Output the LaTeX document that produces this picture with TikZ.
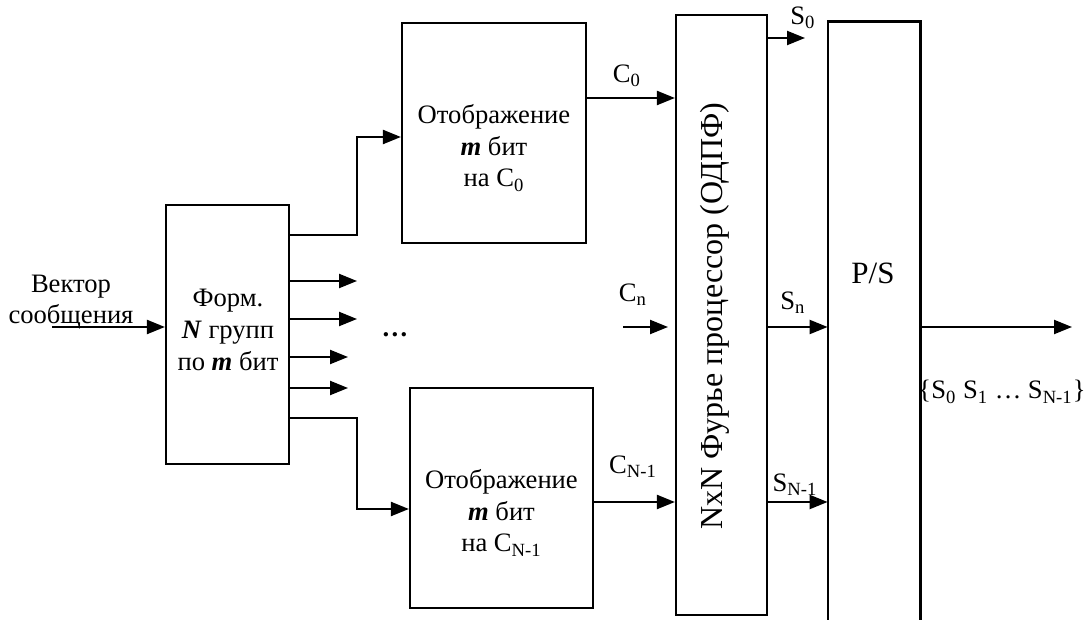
\documentclass[tikz,border=0pt]{standalone}
\usepackage{fontspec}
\setmainfont{Liberation Serif}
\usetikzlibrary{arrows.meta}
\tikzset{
    blk/.style={draw, line width=1.1pt, inner sep=0pt, align=center},
    ln/.style={line width=1.1pt},
    arr/.style={line width=1.1pt, -{Triangle[length=9pt,width=7pt]}},
}

\begin{document}
\begin{tikzpicture}[x=0.5pt, y=-0.5pt, font=\fontsize{13.3}{15.8}\selectfont]
    \useasboundingbox (0,0) rectangle (1089,620);
    % blocks
    \node [blk, minimum width=61.5pt, minimum height=129.5pt] (form) at (227.5,334.5) {};
    \node [align=center] (formtxt) at (228,330) {Форм.\\\textbf{\textit{N}} групп\\по \textbf{\textit{m}} бит};
    \node [blk, minimum width=92pt, minimum height=110pt] (map0) at (494,133) {};
    \node [align=center] (map0txt) at (494,148) {Отображение\\\textbf{\textit{m}} бит\\на C\textsubscript{0}};
    \node [blk, minimum width=91.5pt, minimum height=110pt] (mapN) at (501.5,498) {};
    \node [align=center] (mapNtxt) at (501.5,513) {Отображение\\\textbf{\textit{m}} бит\\на C\textsubscript{N-1}};
    \node [blk, minimum width=45.5pt, minimum height=300pt] (fft) at (721.5,315) {};
    \node [rotate=90, font=\fontsize{16}{18}\selectfont] (ffttxt) at (715,316) {NxN Фурье процессор (ОДПФ)};
    \node [minimum width=46pt, minimum height=300pt, inner sep=0pt] (ps) at (874,322) {};
    \draw [ln] (ps.south west) |- (ps.north) -| (ps.south east);
    \node [font=\fontsize{15.5}{18}\selectfont] (pstxt) at (873,273) {P/S};

    % input
    \coordinate (in) at (52,327);
    \draw [arr] (in) -- (in -| form.west);
    \node [align=center] (intxt) at (71,302) {Вектор\\сообщения};

    % outputs of the grouping block
    \draw [arr] (form.east |- 0,235) -- (357,235) |- ([yshift=-2pt]map0.west);
    \draw [arr] (form.east |- 0,418) -- (357,418) |- ([yshift=-5.5pt]mapN.west);
    \foreach \y/\e in {281/357, 319/357, 357/348, 388/348}
        \draw [arr] (form.east |- 0,\y) -- (\e,\y);
    \node (dots) at (395,335) {\textbf{…}};

    % into the Fourier processor
    \draw [arr] (map0.east |- 0,98) -- (fft.west |- 0,98);
    \node (c0) at (627,76) {C\textsubscript{0}};
    \coordinate (cn) at (623,327);
    \draw [arr] (cn) -- (668,327);
    \node (cntxt) at (633,295) {C\textsubscript{n}};
    \draw [arr] (mapN.east |- 0,502) -- (fft.west |- 0,502);
    \node (cN) at (633,467) {C\textsubscript{N-1}};

    % out of the Fourier processor
    \draw [arr] (fft.east |- 0,38) -- (805,38);
    \node (s0) at (803,18) {S\textsubscript{0}};
    \draw [arr] (fft.east |- 0,327) -- (ps.west |- 0,327);
    \node (sn) at (793,303) {S\textsubscript{n}};
    \draw [arr] (fft.east |- 0,502) -- (ps.west |- 0,502);
    \node (sN) at (795,485) {S\textsubscript{N-1}};

    % serial output
    \draw [arr] (ps.east |- 0,327) -- (1072,327);
    \node (out) at (1002,392) {\{S\textsubscript{0} S\textsubscript{1} … S\textsubscript{N-1}\}};
\end{tikzpicture}
\end{document}
